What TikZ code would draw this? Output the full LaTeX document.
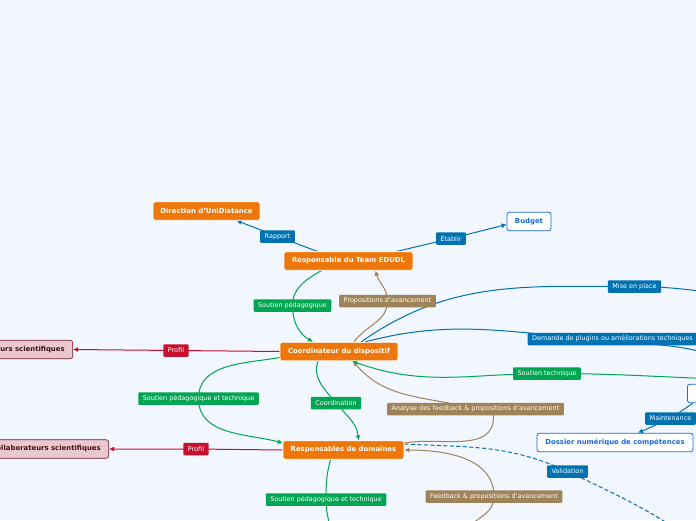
\documentclass[tikz,border=0pt]{standalone}
\usepackage{fontspec}
\setmainfont{DejaVu Sans}
\usetikzlibrary{arrows.meta}

\definecolor{bgblue}{RGB}{242,246,255}
\definecolor{mmorange}{RGB}{238,119,12}
\definecolor{mmgreen}{RGB}{0,166,81}
\definecolor{mmbrown}{RGB}{158,132,88}
\definecolor{mmblue}{RGB}{0,114,178}
\definecolor{mmtext}{RGB}{25,105,215}
\definecolor{mmred}{RGB}{200,16,46}
\definecolor{mmpink}{RGB}{234,200,206}
\definecolor{mmwine}{RGB}{110,25,40}

\pgfdeclarelayer{bg}
\pgfdeclarelayer{lines}
\pgfsetlayers{bg,lines,main}

\tikzset{
    topic/.style={rectangle, rounded corners=2.5pt, fill=mmorange, draw=white, line width=0.6pt,
        text=white, font=\fontsize{6.9}{8}\selectfont\bfseries, minimum height=18.5pt, inner xsep=0pt},
    output/.style={topic, fill=white, draw=mmtext, line width=0.8pt, text=mmtext},
    partner/.style={topic, fill=mmpink, draw=mmwine, text=mmwine!60!black, inner xsep=8pt},
    tag/.style={rectangle, rounded corners=1pt, text=white, font=\fontsize{6.45}{7}\selectfont,
        inner xsep=4.5pt, inner ysep=1pt, minimum height=12.5pt},
    link/.style={line width=1pt, -{Latex[length=5pt,width=5pt]}},
}

\begin{document}
\begin{tikzpicture}[x=1pt,y=1pt]
    \begin{pgfonlayer}{bg}
        \fill[bgblue] (0,0) rectangle (696,-520);
    \end{pgfonlayer}
    \useasboundingbox (0,0) rectangle (696,-520);
    \clip (0,0) rectangle (696,-520);

    % Main nodes
    \node[topic, minimum width=107pt] (direction) at (206.5,-211) {Direction d'UniDistance};
    \node[topic, minimum width=129pt] (team) at (348.5,-261) {Responsable du Team EDUDL};
    \node[topic, minimum width=118pt] (coord) at (339,-351.5) {Coordinateur du dispositif};
    \node[topic, minimum width=121pt] (domaines) at (343.5,-450) {Responsables de domaines};
    \node[output, minimum width=44pt] (budget) at (529,-221.5) {Budget};
    \node[output, minimum width=156pt] (dossier) at (615,-442.5) {Dossier numérique de compétences};
    \node[output, minimum width=40pt, anchor=west] (plateforme) at (687,-393.5) {};
    \node[partner, anchor=east] (auteurs) at (73,-349.5) {Auteurs scientifiques};
    \node[partner, anchor=east] (collab) at (109,-449) {Collaborateurs scientifiques};

    % Ends outside the page
    \coordinate (misefin) at (730,-294);
    \coordinate (demfin) at (720,-358);
    \coordinate (techfin) at (720,-379);
    \coordinate (valfin) at (700,-545);
    \coordinate (fbdebut) at (462,-535);
    \coordinate (spfin) at (333,-540);

    % Labels on the connectors
    \node[tag, fill=mmblue] (rapport) at (277.5,-236.5) {Rapport};
    \node[tag, fill=mmblue] (etablir) at (451,-238.5) {Établir};
    \node[tag, fill=mmgreen] (soutienped) at (292.5,-305.5) {Soutien pédagogique};
    \node[tag, fill=mmbrown] (propositions) at (387.5,-301) {Propositions d'avancement};
    \node[tag, fill=mmred] (profilA) at (176,-350.5) {Profil};
    \node[tag, fill=mmgreen] (soutienPTa) at (198.5,-398.5) {Soutien pédagogique et technique};
    \node[tag, fill=mmgreen] (coordination) at (336,-403) {Coordination};
    \node[tag, fill=mmbrown] (analyse) at (475.5,-409) {Analyse des feedback \& propositions d'avancement};
    \node[tag, fill=mmred] (profilB) at (196,-449) {Profil};
    \node[tag, fill=mmblue] (validation) at (567.5,-471.5) {Validation};
    \node[tag, fill=mmbrown] (feedback) at (494,-496.5) {Feedback \& propositions d'avancement};
    \node[tag, fill=mmgreen] (soutienPTb) at (326,-499.5) {Soutien pédagogique et technique};
    \node[tag, fill=mmblue] (mise) at (634.5,-286.5) {Mise en place};
    \node[tag, fill=mmblue] (demande) at (612.5,-339) {Demande de plugins ou améliorations techniques};
    \node[tag, fill=mmgreen] (soutientech) at (547,-373.5) {Soutien technique};
    \node[tag, fill=mmblue] (maintenance) at (670.5,-418.5) {Maintenance};

    % Connectors
    \begin{pgfonlayer}{lines}
        \draw[link, mmblue] ([xshift=-31pt]team.north) -- (rapport.center) -- ([xshift=30pt]direction.south);
        \draw[link, mmblue] ([xshift=48pt]team.north) -- (etablir.center) -- ([yshift=-3pt]budget.west);
        \draw[link, mmgreen] ([xshift=-27pt]team.south) to[out=210,in=90] (soutienped.center)
            to[out=-90,in=150] ([xshift=-26pt]coord.north);
        \draw[link, mmbrown] ([xshift=15pt]coord.north) to[out=55,in=-90] (propositions.center)
            to[out=90,in=-75] ([xshift=27pt]team.south);
        \draw[link, mmred] (coord.west) -- (profilA.center) -- (auteurs.east);
        \draw[link, mmgreen] ([yshift=-6pt]coord.west) to[out=190,in=90] (soutienPTa.center)
            to[out=-90,in=165] ([yshift=7pt]domaines.west);
        \draw[link, mmgreen] ([xshift=-21pt]coord.south) to[out=250,in=130] (coordination.center)
            to[out=-50,in=95] ([xshift=15pt]domaines.north);
        \draw[link, mmbrown] ([yshift=7pt]domaines.east) to[out=10,in=-90] ([xshift=18pt,yshift=-8pt]analyse.center)
            to[out=90,in=0] (analyse.center) to[out=165,in=-50] ([xshift=14pt]coord.south);
        \draw[link, mmred] (domaines.west) -- (profilB.center) -- (collab.east);
        \draw[link, mmblue, dash pattern=on 4pt off 2.5pt] ([yshift=6pt]domaines.east) to[out=-3,in=155] (validation.center)
            to[out=-25,in=145] (valfin);
        \draw[link, mmbrown] (fbdebut) to[out=60,in=-90] (feedback.center) to[out=90,in=0] (domaines.east);
        \draw[link, mmgreen] ([xshift=-13pt]domaines.south) to[out=255,in=90] (soutienPTb.center)
            to[out=-90,in=100] (spfin);
        \draw[link, mmblue] ([xshift=22pt]coord.north) to[out=35,in=180] (mise.center) to[out=0,in=175] (misefin);
        \draw[link, mmblue] ([xshift=26pt]coord.north) to[out=15,in=178] (demande.center) to[out=-10,in=160] (demfin);
        \draw[link, mmgreen] (techfin) to[out=178,in=0] (soutientech.center) to[out=180,in=-20] ([xshift=13pt]coord.south);
        \draw[link, mmblue] ([xshift=6pt]plateforme.south west) -- (maintenance.center) -- ([xshift=23pt]dossier.north);
    \end{pgfonlayer}
\end{tikzpicture}
\end{document}
